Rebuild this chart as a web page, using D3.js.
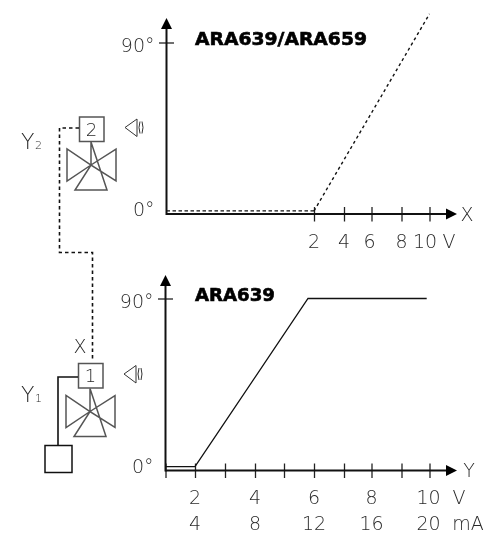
<!DOCTYPE html>
<html>
<head>
<meta charset="utf-8">
<script src="https://cdn.jsdelivr.net/npm/d3@7"></script>
<style>
html, body { margin: 0; padding: 0; background: #fff; }
svg { display: block; filter: grayscale(1); }
text { font-family: "DejaVu Sans", sans-serif; font-weight: 200; fill: #2a2a2a; }
.title { font-weight: 700; fill: #000; stroke: #000; stroke-width: 0.6; }
.axis path { display: none; }
.axis line { stroke: #222; stroke-width: 1.3; }
</style>
</head>
<body>
<script>
// Axis values (the volt axes are not evenly spaced in the drawing)
var voltsTop = [0, 2, 4, 6, 8, 10];
var voltsTopLabels = [2, 4, 6, 8, 10];
var voltsBottom = [0, 2, 3, 4, 5, 6, 7, 8, 9, 10];
var voltsBottomLabels = [2, 4, 6, 8, 10];
var mABottomLabels = [4, 8, 12, 16, 20];
var degTicks = [90];

// Valve angle against signal
var seriesTop = [[0, 1.6], [2, 1.6]];
var seriesTopRamp = [[2, 1.6], [10, 105]];
var seriesBottom = [[0, 2], [2, 2], [5.8, 90], [9.9, 90]];

var width = 485, height = 541;

var svg = d3.select("body").append("svg")
  .attr("width", width)
  .attr("height", height);

function label(x, y, str, size, anchor) {
  return svg.append("text")
    .attr("x", x).attr("y", y)
    .attr("text-anchor", anchor || "middle")
    .attr("font-size", size || 19)
    .text(str);
}

//Scales
var xTop = d3.scaleLinear().domain(voltsTop).range([166.5, 314, 344, 371.5, 401.5, 429.5]);
var yTop = d3.scaleLinear().domain([0, 90]).range([214, 42.5]);
var xBottom = d3.scaleLinear().domain(voltsBottom).range([165.5, 195, 225, 255, 284, 314, 344, 371.5, 401.5, 429.5]);
var yBottom = d3.scaleLinear().domain([0, 90]).range([470.5, 298.5]);

function drawAxes(x, y, ticks, top, arrowX) {
  var x0 = x(0), y0 = y(0);

  var xAxis = svg.append("g")
    .attr("class", "axis")
    .attr("transform", "translate(0," + y0 + ")")
    .call(d3.axisBottom(x).tickValues(ticks).tickSize(15).tickFormat(""));
  xAxis.selectAll("line").attr("y1", -7).attr("y2", 7.5);

  var yAxis = svg.append("g")
    .attr("class", "axis")
    .attr("transform", "translate(" + x0 + ",0)")
    .call(d3.axisLeft(y).tickValues(degTicks).tickSize(15).tickFormat(""));
  yAxis.selectAll("line").attr("x1", -7.5).attr("x2", 7.5);

  svg.append("line").attr("x1", x0).attr("x2", arrowX - 8).attr("y1", y0).attr("y2", y0)
    .attr("stroke", "#111").attr("stroke-width", 2);
  svg.append("line").attr("x1", x0).attr("x2", x0).attr("y1", y0 + 1).attr("y2", top + 8)
    .attr("stroke", "#111").attr("stroke-width", 2);

  svg.append("path")
    .attr("d", "M" + arrowX + "," + y0 + "l-11,-5.5v11z").attr("fill", "#000");
  svg.append("path")
    .attr("d", "M" + x0 + "," + top + "l-5.5,11h11z").attr("fill", "#000");

  label(x0 - 12, y(90) + 9.5, "90°", 19, "end");
  label(x0 - 12, y0 + 2, "0°", 19, "end");
}

drawAxes(xTop, yTop, voltsTopLabels, 18, 457);
drawAxes(xBottom, yBottom, voltsBottom, 275, 457);

//Lines
var lineTop = d3.line().x(function(d) { return xTop(d[0]); }).y(function(d) { return yTop(d[1]); });
var lineBottom = d3.line().x(function(d) { return xBottom(d[0]); }).y(function(d) { return yBottom(d[1]); });

svg.append("path").attr("d", lineTop(seriesTop))
  .attr("fill", "none").attr("stroke", "#111").attr("stroke-width", 1.2).attr("stroke-dasharray", "3.5,2.5");
svg.append("path").attr("d", lineTop(seriesTopRamp))
  .attr("fill", "none").attr("stroke", "#111").attr("stroke-width", 1.4).attr("stroke-dasharray", "3,3");
svg.append("path").attr("d", lineBottom(seriesBottom))
  .attr("fill", "none").attr("stroke", "#111").attr("stroke-width", 1.3);

//Tick labels
voltsTopLabels.slice(0, 4).forEach(function(d) { label(xTop(d) - (d == 6 ? 2 : 0), 247.5, d); });
label(425, 247.5, "10");
label(449, 247.5, "V");
label(467, 220.5, "X");

voltsBottomLabels.forEach(function(d, i) {
  label(xBottom(d) - (d == 10 ? 1 : 0), 503.5, d);
  label(xBottom(d) - (d == 10 ? 1 : 0), 530, mABottomLabels[i]);
});
label(459, 503.5, "V");
label(468, 530, "mA");
label(469, 476.5, "Y");

//Titles
svg.append("text").attr("class", "title").attr("x", 195).attr("y", 45).attr("font-size", 18)
  .attr("textLength", 172).attr("lengthAdjust", "spacingAndGlyphs").text("ARA639/ARA659");
svg.append("text").attr("class", "title").attr("x", 195).attr("y", 301).attr("font-size", 18)
  .attr("textLength", 80).attr("lengthAdjust", "spacingAndGlyphs").text("ARA639");

//Valve symbols
function valve(cx, cy, name) {
  var g = svg.append("g").attr("transform", "translate(" + cx + "," + cy + ")")
    .attr("fill", "none").attr("stroke", "#555").attr("stroke-width", 1.5);
  g.append("rect").attr("x", -11.5).attr("y", -48).attr("width", 24.5).attr("height", 24.5).attr("fill", "#fff");
  g.append("path").attr("d", "M0,-23V0L-24,-16V16L0,0L25,-16V16L0,0L-16,25H16Z");
  label(cx + 0.5, cy - 29.5, name, 18);

  var s = svg.append("g").attr("transform", "translate(" + (cx + 34) + "," + (cy - 37.5) + ")")
    .attr("fill", "none").attr("stroke", "#333").attr("stroke-width", 1);
  s.append("path").attr("d", "M12,-8.5L0,0L12,9Z");
  s.append("path").attr("d", "M15,-6Q13,0,15,6");
  s.append("path").attr("d", "M17,-6Q19,0,17,6");
}
valve(91, 165, "2");
valve(90, 411.5, "1");

//Wiring
svg.append("path").attr("d", "M79,128H59.5V252.5H92.5V359")
  .attr("fill", "none").attr("stroke", "#111").attr("stroke-width", 1.6).attr("stroke-dasharray", "3.5,3");
svg.append("path").attr("d", "M78,377H58V445")
  .attr("fill", "none").attr("stroke", "#111").attr("stroke-width", 1.6);
svg.append("rect").attr("x", 45).attr("y", 445.5).attr("width", 27).attr("height", 27)
  .attr("fill", "none").attr("stroke", "#111").attr("stroke-width", 1.5);

//Signal names
label(21, 149, "Y", 22, "start");
label(35, 149, "2", 11, "start");
label(21, 402, "Y", 22, "start");
label(35, 402, "1", 11, "start");
label(80, 352.5, "X");
</script>
</body>
</html>
